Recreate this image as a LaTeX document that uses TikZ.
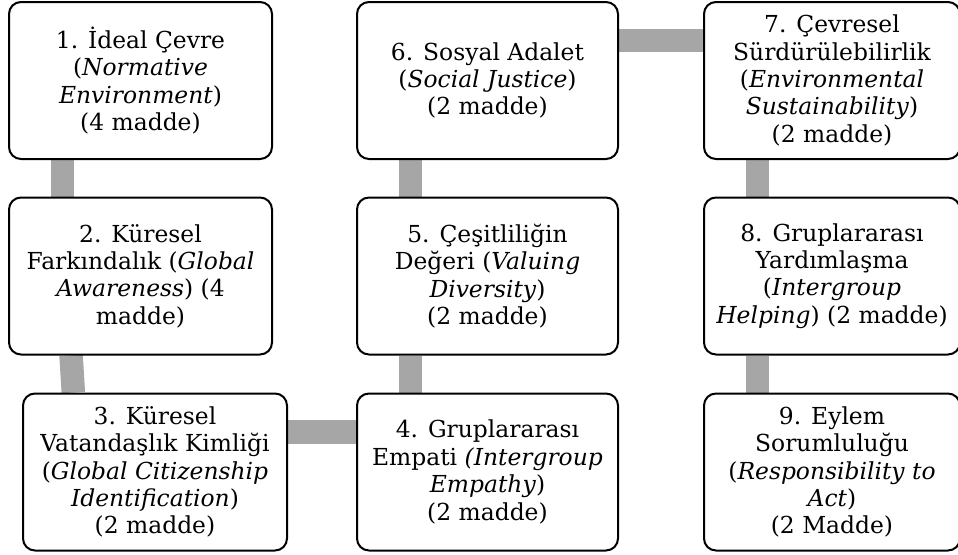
\documentclass[tikz,border=0pt]{standalone}
\usepackage{fontspec}
\setmainfont{DejaVu Serif}
\usetikzlibrary{backgrounds,calc}
\definecolor{bargray}{RGB}{166,166,166}
\tikzset{
  box/.style={draw=black, line width=2pt, rounded corners=12pt, fill=white,
    minimum height=157pt, inner sep=0pt, align=center,
    font=\fontsize{23.4}{27.4}\selectfont},
  bar/.style={draw=bargray, line width=23.5pt}
}
\begin{document}
\begin{tikzpicture}[x=1pt,y=-1pt]
\useasboundingbox (0,0) rectangle (958,554);
\clip (0,0) rectangle (958,554);
\node[box, minimum width=263pt] (n1) at (140.5,80.5) {1. İdeal Çevre\\(\textit{Normative}\\\textit{Environment})\\(4 madde)};
\node[box, minimum width=263pt] (n2) at (140.5,276) {2. Küresel\\Farkındalık (\textit{Global}\\\textit{Awareness}) (4\\madde)};
\node[box, minimum width=264pt] (n3) at (155,472) {3. Küresel\\Vatandaşlık Kimliği\\(\textit{Global Citizenship}\\\textit{Identification})\\(2 madde)};
\node[box, minimum width=261pt] (n4) at (487.5,472) {4. Gruplararası\\Empati \textit{(Intergroup}\\\textit{Empathy})\\(2 madde)};
\node[box, minimum width=261pt] (n5) at (487.5,276) {5. Çeşitliliğin\\Değeri (\textit{Valuing}\\\textit{Diversity})\\(2 madde)};
\node[box, minimum width=261pt] (n6) at (487.5,80.5) {6. Sosyal Adalet\\(\textit{Social Justice})\\(2 madde)};
\node[box, minimum width=256pt] (n7) at (832,80.5) {7. Çevresel\\Sürdürülebilirlik\\(\textit{Environmental}\\\textit{Sustainability})\\(2 madde)};
\node[box, minimum width=256pt] (n8) at (832,276) {8. Gruplararası\\Yardımlaşma\\(\textit{Intergroup}\\\textit{Helping}) (2 madde)};
\node[box, minimum width=256pt] (n9) at (832,472) {9. Eylem\\Sorumluluğu\\(\textit{Responsibility to}\\\textit{Act})\\(2 Madde)};
\begin{scope}[on background layer]
\draw[bar] ($(n1.south west)!0.205!(n1.south east)$) -- ($(n2.north west)!0.205!(n2.north east)$);
\draw[bar] ($(n2.south west)!0.238!(n2.south east)$) -- ($(n3.north west)!0.193!(n3.north east)$);
\draw[bar] ($(n3.north east)!0.247!(n3.south east)$) -- ($(n4.north west)!0.247!(n4.south west)$);
\draw[bar] ($(n4.north west)!0.207!(n4.north east)$) -- ($(n5.south west)!0.207!(n5.south east)$);
\draw[bar] ($(n5.north west)!0.207!(n5.north east)$) -- ($(n6.south west)!0.207!(n6.south east)$);
\draw[bar] ($(n6.north east)!0.248!(n6.south east)$) -- ($(n7.north west)!0.248!(n7.south west)$);
\draw[bar] ($(n7.south west)!0.211!(n7.south east)$) -- ($(n8.north west)!0.211!(n8.north east)$);
\draw[bar] ($(n8.south west)!0.211!(n8.south east)$) -- ($(n9.north west)!0.211!(n9.north east)$);
\end{scope}
\end{tikzpicture}
\end{document}
